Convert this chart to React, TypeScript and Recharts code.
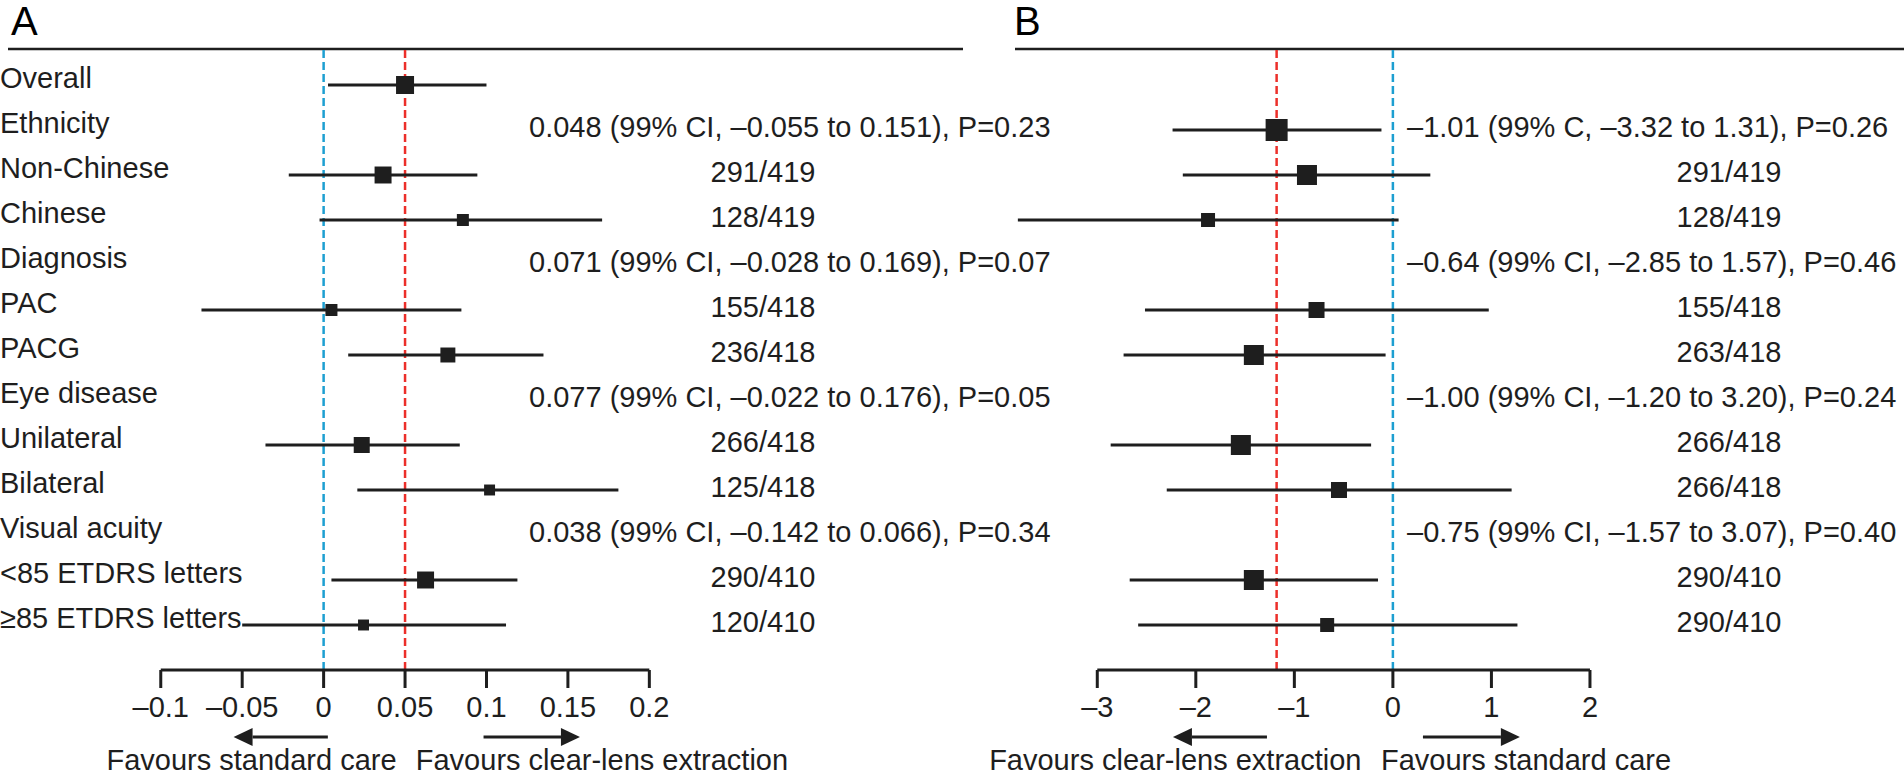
import React from "react";
import { ComposedChart, Scatter, ErrorBar, XAxis, YAxis, ReferenceLine } from "recharts";

const FONT = '"Liberation Sans", Arial, Helvetica, sans-serif';
const INK = "#1e1e1e";
const BLUE = "#1d9fd1";
const RED = "#ec2f2a";
const FS = 29;

const ROW_LABELS = [
  "Overall",
  "Ethnicity",
  "Non-Chinese",
  "Chinese",
  "Diagnosis",
  "PAC",
  "PACG",
  "Eye disease",
  "Unilateral",
  "Bilateral",
  "Visual acuity",
  "<85 ETDRS letters",
  "≥85 ETDRS letters",
];

// panel A: difference in proportions
const rowsA = [0, 2, 3, 5, 6, 8, 9, 11, 12];
const estA = [0.05, 0.0365, 0.0855, 0.0048, 0.0763, 0.0234, 0.1019, 0.0626, 0.0245];
const loA = [0.0027, -0.0214, -0.0025, -0.075, 0.0151, -0.0357, 0.0207, 0.0048, -0.05];
const hiA = [0.1, 0.0944, 0.171, 0.0846, 0.135, 0.0836, 0.181, 0.119, 0.112];
const weightA = [81, 72, 36, 36, 56, 64, 30, 72, 30];
const statsA = [
  "",
  "0.048 (99% CI, –0.055 to 0.151), P=0.23",
  "291/419",
  "128/419",
  "0.071 (99% CI, –0.028 to 0.169), P=0.07",
  "155/418",
  "236/418",
  "0.077 (99% CI, –0.022 to 0.176), P=0.05",
  "266/418",
  "125/418",
  "0.038 (99% CI, –0.142 to 0.066), P=0.34",
  "290/410",
  "120/410",
];
const ticksA = [-0.1, -0.05, 0, 0.05, 0.1, 0.15, 0.2];

// panel B: mean difference
const rowsB = [1, 2, 3, 5, 6, 8, 9, 11, 12];
const estB = [-1.18, -0.872, -1.876, -0.775, -1.411, -1.543, -0.547, -1.411, -0.667];
const loB = [-2.236, -2.132, -3.806, -2.516, -2.733, -2.864, -2.295, -2.671, -2.585];
const hiB = [-0.116, 0.38, 0.058, 0.973, -0.074, -0.221, 1.205, -0.151, 1.264];
const weightB = [121, 100, 49, 64, 100, 100, 64, 100, 49];
const statsB = [
  "",
  "–1.01 (99% C, –3.32 to 1.31), P=0.26",
  "291/419",
  "128/419",
  "–0.64 (99% CI, –2.85 to 1.57), P=0.46",
  "155/418",
  "263/418",
  "–1.00 (99% CI, –1.20 to 3.20), P=0.24",
  "266/418",
  "266/418",
  "–0.75 (99% CI, –1.57 to 3.07), P=0.40",
  "290/410",
  "290/410",
];
const ticksB = [-3, -2, -1, 0, 1, 2];

const Y_DOMAIN: [number, number] = [-0.8, 13];
const ROW_TICKS = ROW_LABELS.map((_, i) => i);
const AXIS_ROW = 13;

const fmt = (v: number) => String(v).replace("-", "–");

function Square(props: any) {
  const { cx, cy, payload } = props;
  const s = 2 * Math.sqrt(payload.w);
  return <rect x={cx - s / 2} y={cy - s / 2} width={s} height={s} fill={INK} />;
}

function arrowShape(dir: "left" | "right") {
  return (p: any) => {
    const y = p.y1 + 67;
    const tip = dir === "left" ? Math.min(p.x1, p.x2) : Math.max(p.x1, p.x2);
    const tail = dir === "left" ? Math.max(p.x1, p.x2) : Math.min(p.x1, p.x2);
    const base = dir === "left" ? tip + 19 : tip - 19;
    return (
      <g>
        <line x1={tail} y1={y} x2={base} y2={y} stroke={INK} strokeWidth={3} />
        <polygon points={`${tip},${y} ${base},${y - 9} ${base},${y + 9}`} fill={INK} />
      </g>
    );
  };
}

function favoursShape(leftText: string, rightText: string) {
  return (p: any) => (
    <g fontFamily={FONT} fontSize={FS} fill={INK}>
      <text x={p.x1} y={p.y1 + 90} dy="0.35em" textAnchor="end">
        {leftText}
      </text>
      <text x={p.x2} y={p.y1 + 90} dy="0.35em" textAnchor="start">
        {rightText}
      </text>
    </g>
  );
}

type PanelProps = {
  left: number;
  width: number;
  margin: { top: number; right: number; bottom: number; left: number };
  domain: [number, number];
  ticks: number[];
  rows: number[];
  est: number[];
  lo: number[];
  hi: number[];
  weight: number[];
  stats: string[];
  statX: number;
  countX: number;
  pooled: number;
  arrowLeft: [number, number];
  arrowRight: [number, number];
  favoursSplit: [number, number];
  favours: [string, string];
  showLabels: boolean;
  letter: string;
  letterX: number;
};

function ForestPanel(props: PanelProps) {
  const points = props.rows.map((row, i) => ({
    row,
    est: props.est[i],
    err: [props.est[i] - props.lo[i], props.hi[i] - props.est[i]],
    w: props.weight[i],
  }));
  const statRows = ROW_TICKS.filter((i) => props.stats[i]);

  const rowLabel = (p: any) => (
    <text x={0} y={p.y - 7} dy="0.36em" fontFamily={FONT} fontSize={FS} fill={INK} textAnchor="start">
      {ROW_LABELS[p.payload.value]}
    </text>
  );
  const statText = (p: any) => {
    const t = props.stats[p.payload.value];
    const isCount = !t.includes("CI") && !t.includes("C,");
    return (
      <text
        x={isCount ? props.countX : props.statX}
        y={p.y - 3}
        dy="0.36em"
        fontFamily={FONT}
        fontSize={FS}
        fill={INK}
        textAnchor={isCount ? "middle" : "start"}
      >
        {t}
      </text>
    );
  };

  return (
    <div style={{ position: "absolute", left: props.left, top: 0 }}>
      <div
        style={{
          position: "absolute",
          left: props.letterX,
          top: 1,
          fontFamily: FONT,
          fontSize: 40,
          lineHeight: 1,
          color: "#000",
        }}
      >
        {props.letter}
      </div>
      <ComposedChart width={props.width} height={776} margin={props.margin}>
        <XAxis
          type="number"
          dataKey="est"
          domain={props.domain}
          allowDataOverflow
          ticks={props.ticks}
          interval={0}
          axisLine={false}
          tickLine={{ stroke: INK, strokeWidth: 3 }}
          tickSize={18}
          tickMargin={8}
          height={106}
          tick={{ fontSize: FS, fill: INK, fontFamily: FONT }}
          tickFormatter={fmt}
        />
        <YAxis
          yAxisId="rows"
          type="number"
          dataKey="row"
          domain={Y_DOMAIN}
          reversed
          allowDataOverflow
          ticks={ROW_TICKS}
          interval={0}
          width={1}
          axisLine={false}
          tickLine={false}
          tick={props.showLabels ? rowLabel : false}
        />
        <YAxis
          yAxisId="stats"
          orientation="right"
          type="number"
          domain={Y_DOMAIN}
          reversed
          allowDataOverflow
          ticks={statRows}
          interval={0}
          width={1}
          axisLine={false}
          tickLine={false}
          tick={statText}
        />
        <ReferenceLine yAxisId="rows" y={Y_DOMAIN[0]} stroke={INK} strokeWidth={2.5} ifOverflow="visible" />
        <ReferenceLine
          yAxisId="rows"
          x={0}
          stroke={BLUE}
          strokeWidth={2.5}
          strokeDasharray="8 4"
          ifOverflow="visible"
        />
        <ReferenceLine
          yAxisId="rows"
          x={props.pooled}
          stroke={RED}
          strokeWidth={2.5}
          strokeDasharray="8 4"
          ifOverflow="visible"
        />
        <ReferenceLine
          yAxisId="rows"
          segment={[
            { x: props.ticks[0], y: AXIS_ROW },
            { x: props.ticks[props.ticks.length - 1], y: AXIS_ROW },
          ]}
          stroke={INK}
          strokeWidth={3}
          ifOverflow="visible"
        />
        <ReferenceLine
          yAxisId="rows"
          segment={[
            { x: props.arrowLeft[0], y: AXIS_ROW },
            { x: props.arrowLeft[1], y: AXIS_ROW },
          ]}
          ifOverflow="visible"
          shape={arrowShape("left")}
        />
        <ReferenceLine
          yAxisId="rows"
          segment={[
            { x: props.arrowRight[0], y: AXIS_ROW },
            { x: props.arrowRight[1], y: AXIS_ROW },
          ]}
          ifOverflow="visible"
          shape={arrowShape("right")}
        />
        <ReferenceLine
          yAxisId="rows"
          segment={[
            { x: props.favoursSplit[0], y: AXIS_ROW },
            { x: props.favoursSplit[1], y: AXIS_ROW },
          ]}
          ifOverflow="visible"
          shape={favoursShape(props.favours[0], props.favours[1])}
        />
        <Scatter yAxisId="rows" data={points} shape={Square} isAnimationActive={false}>
          <ErrorBar
            dataKey="err"
            direction="x"
            width={0}
            stroke={INK}
            strokeWidth={3}
            isAnimationActive={false}
          />
        </Scatter>
      </ComposedChart>
    </div>
  );
}

export default function App() {
  return (
    <div
      style={{
        position: "absolute",
        left: 0,
        top: 0,
        width: 1904,
        height: 776,
        background: "#fff",
        overflow: "hidden",
      }}
    >
      <ForestPanel
        left={0}
        width={1070}
        margin={{ top: 49, right: 106, bottom: 0, left: 7 }}
        domain={[-0.1938, 0.3926]}
        ticks={ticksA}
        rows={rowsA}
        est={estA}
        lo={loA}
        hi={hiA}
        weight={weightA}
        stats={statsA}
        statX={529}
        countX={763}
        pooled={estA[0]}
        arrowLeft={[-0.0553, 0.0026]}
        arrowRight={[0.0982, 0.1574]}
        favoursSplit={[0.0448, 0.0566]}
        favours={["Favours standard care", "Favours clear-lens extraction"]}
        showLabels
        letter="A"
        letterX={11}
      />
      <ForestPanel
        left={950}
        width={955}
        margin={{ top: 49, right: 0, bottom: 0, left: 64 }}
        domain={[-3.835, 5.187]}
        ticks={ticksB}
        rows={rowsB}
        est={estB}
        lo={loB}
        hi={hiB}
        weight={weightB}
        stats={statsB}
        statX={457}
        countX={779}
        pooled={estB[0]}
        arrowLeft={[-2.232, -1.278]}
        arrowRight={[0.305, 1.289]}
        favoursSplit={[-0.319, -0.121]}
        favours={["Favours clear-lens extraction", "Favours standard care"]}
        showLabels={false}
        letter="B"
        letterX={64}
      />
    </div>
  );
}
